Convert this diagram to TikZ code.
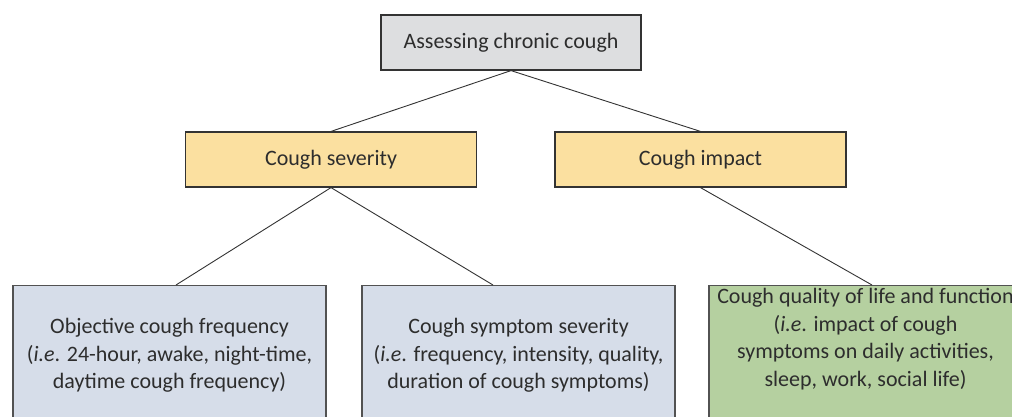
\documentclass[tikz,border=0pt]{standalone}
\usepackage{fontspec}
\setmainfont{Carlito}
\usetikzlibrary{positioning}

\definecolor{boxgray}{RGB}{221,222,224}
\definecolor{boxyellow}{RGB}{251,224,160}
\definecolor{boxblue}{RGB}{214,221,233}
\definecolor{boxgreen}{RGB}{181,208,160}
\definecolor{linegray}{RGB}{51,51,51}
\definecolor{textgray}{RGB}{45,45,45}

\begin{document}
\begin{tikzpicture}[x=1pt, y=-1pt,
    every node/.style={font=\fontsize{22}{27.5}\selectfont, text=textgray},
    topbox/.style={draw=linegray, line width=1.2pt, minimum width=260pt, minimum height=55pt, inner sep=0pt},
    midbox/.style={draw=linegray, line width=1.2pt, fill=boxyellow, minimum width=291pt, minimum height=55pt, inner sep=0pt},
    lowbox/.style={draw=linegray!85, line width=1.2pt, minimum width=313pt, minimum height=150pt, anchor=north, inner sep=0pt},
    lowtext/.style={align=center, inner sep=0pt},
    link/.style={draw=linegray, line width=0.9pt}]
    %--------------------%
    % Parameters
    %--------------------%
    \def\topy{42.5}
    \def\midy{159.5}
    \def\lowy{285}

    \useasboundingbox (0,0) rectangle (1012,416);

    %--------------------%
    % Top
    %--------------------%
    \node[topbox, fill=boxgray] (assess) at (511,\topy) {Assessing chronic cough};

    %--------------------%
    % Middle
    %--------------------%
    \node[midbox] (severity) at (331,\midy) {Cough severity};
    \node[midbox] (impact) at (700.5,\midy) {Cough impact};

    %--------------------%
    % Bottom
    %--------------------%
    \node[lowbox, fill=boxblue] (freq) at (169.5,\lowy) {};
    \node[lowbox, fill=boxblue] (symptom) at (518.5,\lowy) {};
    \node[lowbox, fill=boxgreen] (quality) at (865.5,\lowy) {};

    \node[lowtext] (freqtext) at (169.5,355.5) {Objective cough frequency\\(\textit{i.e}. 24-hour, awake, night-time,\\daytime cough frequency)};
    \node[lowtext] (symptomtext) at (518.5,355.5) {Cough symptom severity\\(\textit{i.e}. frequency, intensity, quality,\\duration of cough symptoms)};
    \node[lowtext] (qualitytext) at (865.5,339) {Cough quality of life and function\\(\textit{i.e}. impact of cough\\symptoms on daily activities,\\sleep, work, social life)};

    %--------------------%
    % Connections
    %--------------------%
    \draw[link] (assess.south) -- (severity.north);
    \draw[link] (assess.south) -- (impact.north);
    \draw[link] (severity.south) -- ([xshift=6.5pt]freq.north);
    \draw[link] (severity.south) -- ([xshift=-25.5pt]symptom.north);
    \draw[link] (impact.south) -- ([xshift=6.5pt]quality.north);

\end{tikzpicture}
\end{document}
